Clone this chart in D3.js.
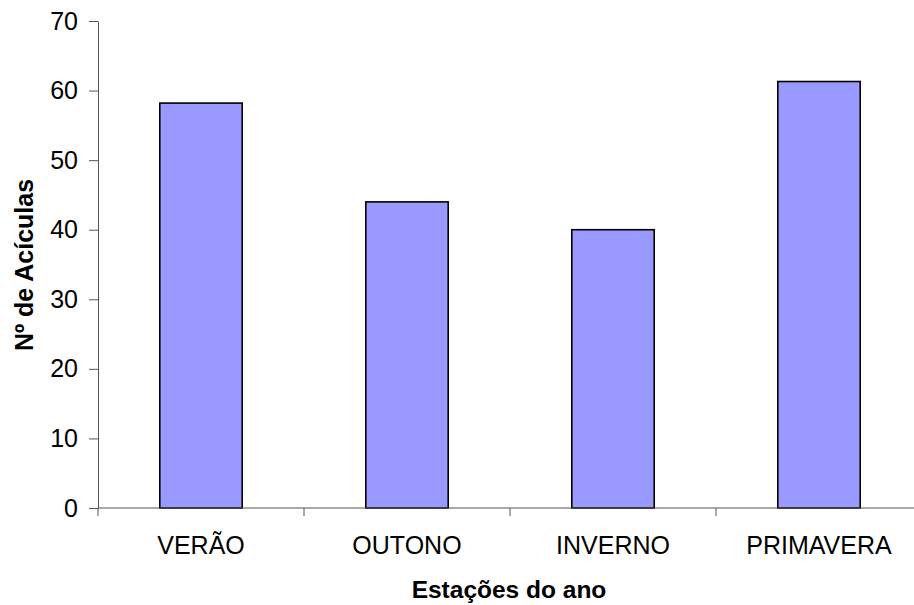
<!DOCTYPE html>
<html>
<head>
<meta charset="utf-8">
<script src="https://cdn.jsdelivr.net/npm/d3@7"></script>
<style>
  html, body { margin: 0; padding: 0; background: #fff; }
  svg { display: block; }
  text { font-family: "Liberation Sans", Arial, sans-serif; fill: #000; }
</style>
</head>
<body>
<svg id="chart" width="914" height="605"></svg>
<script>
// Seasons and counts of needles
const categories = ["VERÃO", "OUTONO", "INVERNO", "PRIMAVERA"];
const values = [58.2, 44, 40, 61.3];
const yTicks = [0, 10, 20, 30, 40, 50, 60, 70];
const xTitle = "Estações do ano";
const yTitle = "Nº de Acículas";

const svg = d3.select("#chart");
const plotLeft = 98, plotRight = 922, plotTop = 21, plotBottom = 508;

const x = d3.scaleBand().domain(categories).range([plotLeft, plotRight]).paddingInner(0.6).paddingOuter(0.3);
const y = d3.scaleLinear().domain([0, 70]).range([plotBottom, plotTop]);

// Bars
svg.append("g").selectAll("rect")
  .data(categories.map((c, i) => ({ c, v: values[i] })))
  .join("rect")
  .attr("x", d => x(d.c))
  .attr("y", d => y(d.v))
  .attr("width", x.bandwidth())
  .attr("height", d => y(0) - y(d.v))
  .attr("fill", "#9999ff")
  .attr("stroke", "#000")
  .attr("stroke-width", 1.6);

// Y axis
const yAxis = svg.append("g")
  .attr("transform", `translate(${plotLeft},0)`)
  .call(d3.axisLeft(y).tickValues(yTicks).tickSize(9).tickPadding(11).tickSizeOuter(0));
yAxis.select(".domain").attr("stroke", "#555");
yAxis.selectAll(".tick line").attr("stroke", "#555");
yAxis.selectAll(".tick text").style("font-size", "25px").attr("font-family", null);

// X axis: ticks at category boundaries
const step = x.step();
const boundaries = d3.range(categories.length + 1).map(i => plotLeft + i * step);
svg.append("line")
  .attr("x1", plotLeft).attr("x2", plotRight).attr("y1", plotBottom).attr("y2", plotBottom)
  .attr("stroke", "#555");
svg.append("g").selectAll("line")
  .data(boundaries)
  .join("line")
  .attr("x1", d => d).attr("x2", d => d)
  .attr("y1", plotBottom).attr("y2", plotBottom + 8)
  .attr("stroke", "#555");

svg.append("g").selectAll("text")
  .data(categories)
  .join("text")
  .attr("x", d => x(d) + x.bandwidth() / 2)
  .attr("y", 554)
  .attr("text-anchor", "middle")
  .style("font-size", "25px")
  .text(d => d);

// Axis titles
svg.append("text")
  .attr("x", 509).attr("y", 598)
  .attr("text-anchor", "middle")
  .style("font-size", "24.5px").style("font-weight", "bold")
  .text(xTitle);

svg.append("text")
  .attr("transform", "translate(33,265) rotate(-90)")
  .attr("text-anchor", "middle")
  .style("font-size", "25px").style("font-weight", "bold")
  .text(yTitle);
</script>
</body>
</html>
